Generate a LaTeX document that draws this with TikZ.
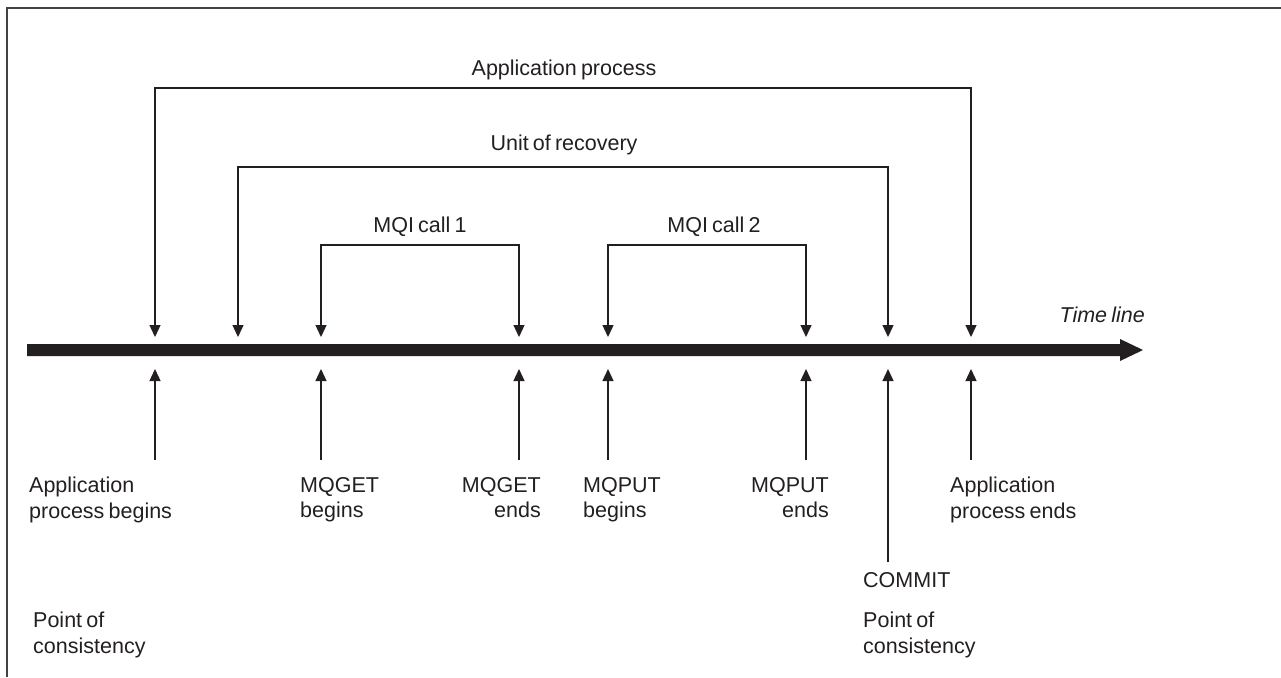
\documentclass[tikz,border=0pt]{standalone}
\usepackage{fontspec}
\setmainfont{Liberation Sans}[WordSpace=0.7]
\usetikzlibrary{arrows.meta}
\definecolor{ink}{HTML}{231F20}
\tikzset{
  lbl/.style={inner sep=0pt, text=ink, font=\fontsize{21.5}{25.5}\selectfont},
  brk/.style={draw=ink, line width=1.3pt, {Triangle[width=11pt,length=12pt]}-{Triangle[width=11pt,length=12pt]}},
  upar/.style={draw=ink, line width=1.3pt, -{Triangle[width=11pt,length=12pt]}},
  frame/.style={draw=ink!85, line width=1.6pt}
}
\begin{document}
\begin{tikzpicture}[x=1pt,y=-1pt]
\useasboundingbox (0,0) rectangle (1281,677);
% frame (top and left edges)
\draw[frame] (7,677) -- (7,8) -- (1281,8);
% time line bar
\fill[ink] (27,344) -- (1120,344) -- (1120,339) -- (1143,350) -- (1120,361) -- (1120,356) -- (27,356) -- cycle;
\node[lbl, anchor=base east, font=\fontsize{21.5}{26}\selectfont\itshape] (tl) at (1145,322) {Time line};
% arrow tips on the bar (top and bottom)
\foreach \n/\x in {a/155,b/238,c/321,d/519,e/608,f/806,g/888,h/971}{
  \coordinate (top\n) at (\x,337);
  \coordinate (bot\n) at (\x,369);
  \coordinate (low\n) at (\x,460);
}
\coordinate (lowg) at (888,562);
% bracket tops
\coordinate (apm) at (564,88);
\coordinate (urm) at (564,167);
\coordinate (m1m) at (420,245);
\coordinate (m2m) at (708,245);
\node[lbl, anchor=base] (aplbl) at (564,75) {Application process};
\node[lbl, anchor=base] (urlbl) at (564,150) {Unit of recovery};
\node[lbl, anchor=base] (m1lbl) at (420,232) {MQI call 1};
\node[lbl, anchor=base] (m2lbl) at (714,232) {MQI call 2};
\draw[brk] (topa) |- (apm) -| (toph);
\draw[brk] (topb) |- (urm) -| (topg);
\draw[brk] (topc) |- (m1m) -| (topd);
\draw[brk] (tope) |- (m2m) -| (topf);
% up arrows
\foreach \n in {a,c,d,e,f,g,h}{
  \draw[upar] (low\n) -- (bot\n);
}
% lower labels
\node[lbl, anchor=north west, align=left] (l1) at (29,477) {Application\\process begins};
\node[lbl, anchor=north west, align=left] (l2) at (300,477) {MQGET\\begins};
\node[lbl, anchor=north east, align=right] (l3) at (541,477) {MQGET\\ends};
\node[lbl, anchor=north west, align=left] (l4) at (583,477) {MQPUT\\begins};
\node[lbl, anchor=north east, align=right] (l5) at (829,477) {MQPUT\\ends};
\node[lbl, anchor=north west, align=left] (l6) at (950,477) {Application\\process ends};
\node[lbl, anchor=north west] (cm) at (863,572) {COMMIT};
\node[lbl, anchor=north west, align=left] (pc2) at (863,612) {Point of\\consistency};
\node[lbl, anchor=north west, align=left] (pc1) at (33,612) {Point of\\consistency};
\end{tikzpicture}
\end{document}
